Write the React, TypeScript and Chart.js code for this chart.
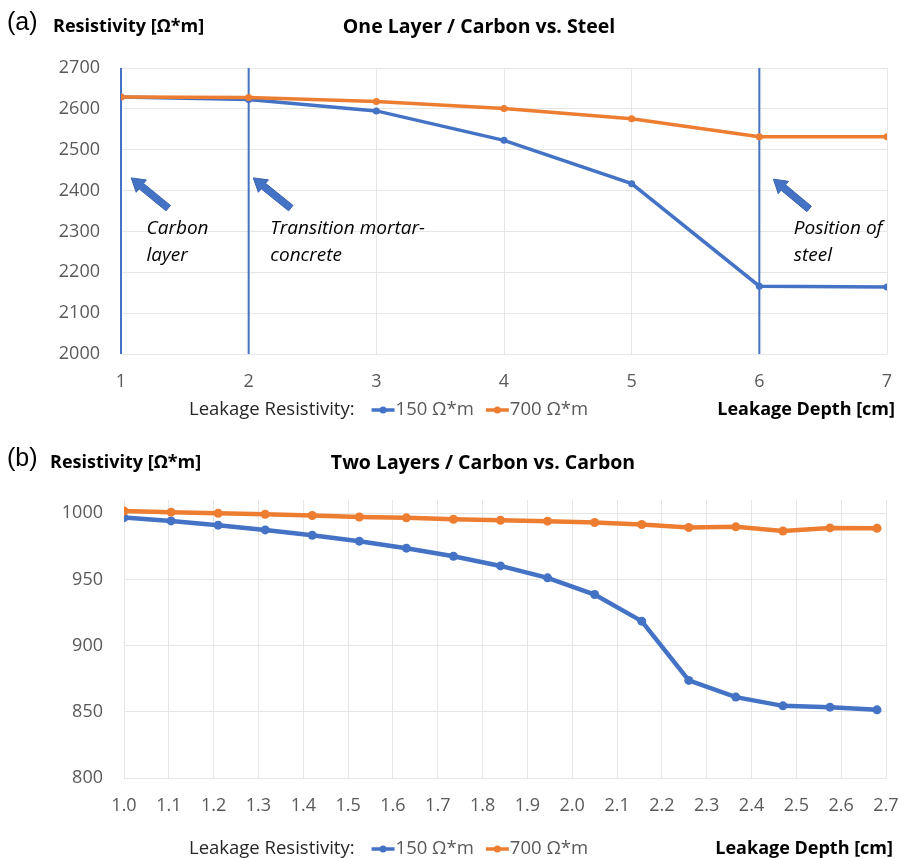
import React, { useEffect, useRef } from "react";
import { Chart, registerables } from "chart.js";
Chart.register(...registerables);

// ---------- data ----------
const depthA = [1, 2, 3, 4, 5, 6, 7];
const resA150 = [2629, 2623, 2595, 2523, 2417, 2166, 2164];
const resA700 = [2629, 2628, 2618, 2601, 2576, 2532, 2532];

const depthB = [1.0, 1.105, 1.21, 1.315, 1.42, 1.525, 1.63, 1.735, 1.84, 1.945, 2.05, 2.155, 2.26, 2.365, 2.47, 2.575, 2.68];
const resB150 = [996.7, 994.2, 991.0, 987.4, 983.4, 978.9, 973.6, 967.5, 960.2, 951.2, 938.6, 918.5, 873.7, 861.1, 854.5, 853.5, 851.5];
const resB700 = [1001.7, 1000.8, 1000.0, 999.2, 998.3, 997.2, 996.5, 995.5, 994.7, 994.0, 993.0, 991.5, 989.2, 989.7, 986.6, 988.9, 988.7];

const seriesLabels = ["150 Ω*m", "700 Ω*m"];
const seriesColors = ["#4472C4", "#ED7D31"];

const titleA = "One Layer / Carbon vs. Steel";
const titleB = "Two Layers / Carbon vs. Carbon";
const yTitle = "Resistivity [Ω*m]";
const xTitle = "Leakage Depth [cm]";
const legendPrefix = "Leakage Resistivity:";

// vertical marker lines in chart (a) (depth values)
const markerDepthsA = [1, 2, 6];
// annotation arrows/text in chart (a), in data units
const noteTipX = [1.08, 2.036, 6.11];
const noteTipY = [2431, 2431, 2428];
const noteTailX = [1.37, 2.33, 6.39];
const noteTailY = [2357, 2357, 2355];
const noteTextX = [1.2, 2.17, 6.27];
const noteLines = [["Carbon", "layer"], ["Transition mortar-", "concrete"], ["Position of", "steel"]];
const noteLineY = [2308, 2242];

const FONT = "'Open Sans', sans-serif";
const TICK_COLOR = "#595959";
const GRID_COLOR = "#e6e6e6";

type PanelCfg = {
  panel: string;
  title: string;
  titleX: number;
  titleY: number;
  yTitleX: number;
  legendX: number;
  legendY: number;
  xTitleRight: number;
  withNotes: boolean;
};

function drawArrow(ctx: CanvasRenderingContext2D, tx: number, ty: number, sx: number, sy: number) {
  const dx = tx - sx, dy = ty - sy;
  const len = Math.hypot(dx, dy);
  const ux = dx / len, uy = dy / len;
  const px = -uy, py = ux;
  const sw = 3.5, hw = 8, hl = 13;
  const nx = tx - ux * hl, ny = ty - uy * hl;
  ctx.beginPath();
  ctx.moveTo(sx + px * sw, sy + py * sw);
  ctx.lineTo(nx + px * sw, ny + py * sw);
  ctx.lineTo(nx + px * hw, ny + py * hw);
  ctx.lineTo(tx, ty);
  ctx.lineTo(nx - px * hw, ny - py * hw);
  ctx.lineTo(nx - px * sw, ny - py * sw);
  ctx.lineTo(sx - px * sw, sy - py * sw);
  ctx.closePath();
  ctx.fillStyle = "#4472C4";
  ctx.fill();
  ctx.strokeStyle = "#3A62AD";
  ctx.lineWidth = 1;
  ctx.stroke();
}

function makeOverlay(cfg: PanelCfg) {
  return {
    id: "overlay",
    beforeDatasetsDraw(chart: any) {
      if (!cfg.withNotes) return;
      const ctx = chart.ctx;
      const xs = chart.scales.x, area = chart.chartArea;
      ctx.save();
      ctx.strokeStyle = "#4472C4";
      ctx.lineWidth = 2;
      markerDepthsA.forEach((d) => {
        const x = xs.getPixelForValue(d);
        ctx.beginPath();
        ctx.moveTo(x, area.top);
        ctx.lineTo(x, area.bottom);
        ctx.stroke();
      });
      ctx.restore();
    },
    afterDraw(chart: any) {
      const ctx = chart.ctx;
      const xs = chart.scales.x, ys = chart.scales.y;
      ctx.save();
      // panel label
      ctx.fillStyle = "#000";
      ctx.textBaseline = "middle";
      ctx.textAlign = "left";
      ctx.font = `25px 'Liberation Sans', Arial, sans-serif`;
      ctx.fillText(cfg.panel, 7, cfg.titleY - 4);
      // y title
      ctx.font = `bold 18px ${FONT}`;
      ctx.fillText(yTitle, cfg.yTitleX, cfg.titleY);
      // chart title
      ctx.textAlign = "center";
      ctx.font = `bold 19.5px ${FONT}`;
      ctx.fillText(cfg.title, cfg.titleX, cfg.titleY);
      // x title
      ctx.textAlign = "right";
      ctx.font = `bold 18px ${FONT}`;
      ctx.fillText(xTitle, cfg.xTitleRight, cfg.legendY);
      // legend
      ctx.textAlign = "left";
      ctx.font = `18.5px ${FONT}`;
      ctx.fillStyle = "#262626";
      let lx = cfg.legendX;
      ctx.fillText(legendPrefix, lx, cfg.legendY);
      lx += ctx.measureText(legendPrefix).width + 17;
      chart.data.datasets.forEach((ds: any) => {
        ctx.strokeStyle = ds.borderColor;
        ctx.lineWidth = 3.5;
        ctx.beginPath();
        ctx.moveTo(lx, cfg.legendY);
        ctx.lineTo(lx + 23, cfg.legendY);
        ctx.stroke();
        ctx.fillStyle = ds.borderColor;
        ctx.beginPath();
        ctx.arc(lx + 11.5, cfg.legendY, 3.5, 0, Math.PI * 2);
        ctx.fill();
        lx += 24;
        ctx.fillStyle = TICK_COLOR;
        ctx.fillText(ds.label, lx, cfg.legendY);
        lx += ctx.measureText(ds.label).width + 12;
      });
      // notes
      if (cfg.withNotes) {
        noteTipX.forEach((_, i) => {
          drawArrow(
            ctx,
            xs.getPixelForValue(noteTipX[i]),
            ys.getPixelForValue(noteTipY[i]),
            xs.getPixelForValue(noteTailX[i]),
            ys.getPixelForValue(noteTailY[i])
          );
          ctx.fillStyle = "#000";
          ctx.textAlign = "left";
          ctx.textBaseline = "middle";
          ctx.font = `italic 19px ${FONT}`;
          noteLines[i].forEach((t, j) => {
            ctx.fillText(t, xs.getPixelForValue(noteTextX[i]), ys.getPixelForValue(noteLineY[j]));
          });
        });
      }
      ctx.restore();
    },
  };
}

function buildConfig(
  xv: number[],
  s150: number[],
  s700: number[],
  opts: {
    xmin: number; xmax: number; xstep: number; ymin: number; ymax: number; ystep: number;
    pad: { top: number; right: number; bottom: number }; yWidth: number; xHeight: number;
    lineW: number; pointR: number; decimals: number;
  },
  cfg: PanelCfg
) {
  const mk = (label: string, ys: number[], color: string, order: number) => ({
    label,
    data: xv.map((x, i) => ({ x, y: ys[i] })),
    borderColor: color,
    backgroundColor: color,
    borderWidth: opts.lineW,
    pointRadius: opts.pointR,
    pointBorderWidth: 0,
    pointHoverRadius: opts.pointR,
    tension: 0,
    order,
  });
  return {
    type: "line" as const,
    data: {
      datasets: [
        mk(seriesLabels[0], s150, seriesColors[0], 1),
        mk(seriesLabels[1], s700, seriesColors[1], 0),
      ],
    },
    options: {
      animation: false as const,
      responsive: false,
      layout: { padding: { left: 0, top: opts.pad.top, right: opts.pad.right, bottom: opts.pad.bottom } },
      plugins: { legend: { display: false }, title: { display: false }, tooltip: { enabled: false } },
      scales: {
        x: {
          type: "linear" as const,
          min: opts.xmin,
          max: opts.xmax,
          ticks: {
            stepSize: opts.xstep,
            color: TICK_COLOR,
            font: { family: FONT, size: 18 },
            padding: 0,
            maxRotation: 0,
            autoSkip: false,
            callback: (v: any) => Number(v).toFixed(opts.decimals),
          },
          grid: { color: GRID_COLOR, drawTicks: true, tickLength: 17, tickColor: "rgba(0,0,0,0)", lineWidth: 1 },
          border: { display: false },
          afterFit: (s: any) => { s.height = opts.xHeight; },
        },
        y: {
          type: "linear" as const,
          min: opts.ymin,
          max: opts.ymax,
          ticks: {
            stepSize: opts.ystep,
            includeBounds: false,
            color: TICK_COLOR,
            font: { family: FONT, size: 18 },
            padding: 21,
            callback: (v: any) => String(Math.round(Number(v))),
          },
          grid: { color: GRID_COLOR, drawTicks: false, lineWidth: 1 },
          border: { display: false },
          afterFit: (s: any) => { s.width = opts.yWidth; },
        },
      },
    },
    plugins: [makeOverlay(cfg)],
  };
}

function Panel(props: { config: any; width: number; height: number; top: number }) {
  const ref = useRef<HTMLCanvasElement>(null);
  useEffect(() => {
    const chart = new Chart(ref.current as HTMLCanvasElement, props.config);
    return () => chart.destroy();
  }, []);
  return (
    <canvas
      ref={ref}
      width={props.width}
      height={props.height}
      style={{ position: "absolute", left: 0, top: props.top, width: props.width, height: props.height }}
    />
  );
}

export default function App() {
  const cfgA = buildConfig(
    depthA, resA150, resA700,
    { xmin: 1, xmax: 7, xstep: 1, ymin: 2000, ymax: 2700, ystep: 100, pad: { top: 68, right: 12, bottom: 36 }, yWidth: 121, xHeight: 40, lineW: 3.5, pointR: 3.5, decimals: 0 },
    { panel: "(a)", title: titleA, titleX: 479, titleY: 27, yTitleX: 53, legendX: 189, legendY: 410, xTitleRight: 895, withNotes: true }
  );
  const cfgB = buildConfig(
    depthB, resB150, resB700,
    { xmin: 1.0, xmax: 2.7, xstep: 0.1, ymin: 800, ymax: 1010, ystep: 50, pad: { top: 70, right: 13, bottom: 40 }, yWidth: 124, xHeight: 40, lineW: 4.5, pointR: 4.5, decimals: 1 },
    { panel: "(b)", title: titleB, titleX: 483, titleY: 33, yTitleX: 50, legendX: 189, legendY: 419, xTitleRight: 893, withNotes: false }
  );
  return (
    <div style={{ position: "absolute", left: 0, top: 0, width: 899, height: 858, background: "#fff" }}>
      <Panel config={cfgA} width={899} height={430} top={0} />
      <Panel config={cfgB} width={899} height={428} top={430} />
    </div>
  );
}
